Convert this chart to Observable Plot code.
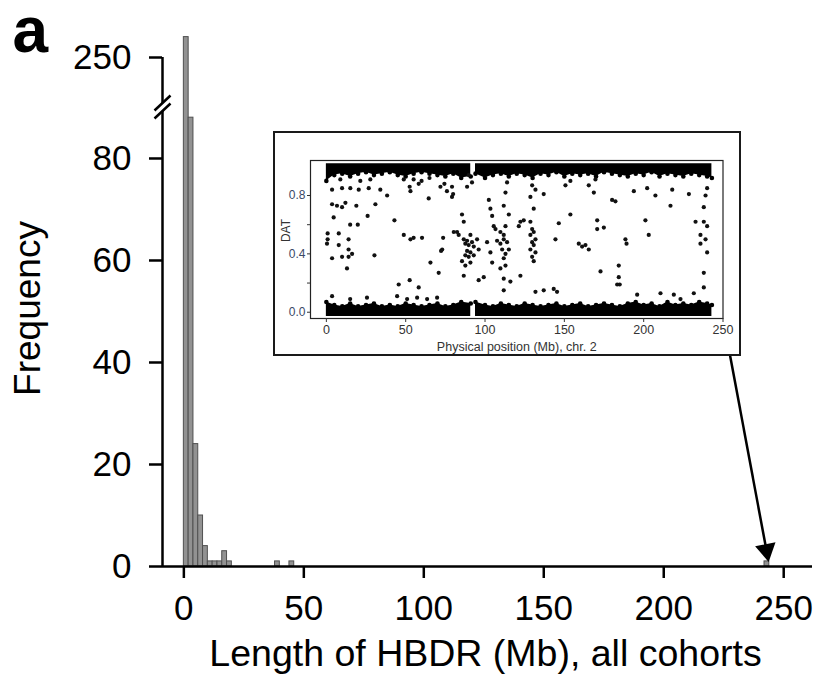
<!DOCTYPE html>
<html>
<head>
<meta charset="utf-8">
<script src="https://cdn.jsdelivr.net/npm/d3@7"></script>
<script src="https://cdn.jsdelivr.net/npm/@observablehq/plot@0.6"></script>
<style>
  html, body { margin: 0; padding: 0; background: #fff; }
  #wrap { position: relative; width: 817px; height: 677px; overflow: hidden; background: #fff; }
  #main { position: absolute; left: 0; top: 0; }
  #inset { position: absolute; left: 273px; top: 131px; width: 468px; height: 225px;
           box-sizing: border-box; border: 2px solid #1a1a1a; background: #fff; }
  svg { display: block; }
</style>
</head>
<body>
<div id="wrap"><div id="main"></div><div id="inset"></div></div>
<script>
// ---------- Main histogram data ----------
const binStart = [0, 2, 4, 6, 8, 10, 12, 14, 16, 18, 38, 44, 242];
const binCount = [254, 88, 24, 10, 4, 1, 1, 1, 3, 1, 1, 1, 1];
const binWidth = 2;
const xTicks = [0, 50, 100, 150, 200, 250];
const yTicks = [0, 20, 40, 60, 80, 250];
const breakLow = 90;       // axis is broken between these two values
const breakHigh = 240.2;
const arrowFrom = {x: 227.4, y: 42};       // arrow from inset box to the 243 Mb bar
const arrowTo = {x: 242.8, y: 3.2};

// ---------- Inset (chr. 2) data ----------
const insetXTicks = [0, 50, 100, 150, 200, 250];
const insetYTicks = [0, 0.2, 0.4, 0.6, 0.8];
const insetYLabels = [0, 0.4, 0.8];
const bandX = [0,5,10,15,20,25,30,35,40,45,50,55,60,65,70,75,80,85,91,92.5,94,100,105,110,115,120,125,130,135,140,145,150,155,160,165,170,175,180,185,190,195,200,205,210,215,220,225,230,235,240,243];
const topEdge = [0.90,0.94,0.95,0.93,0.95,0.96,0.94,0.95,0.96,0.94,0.93,0.95,0.96,0.95,0.94,0.93,0.95,0.92,0.93,null,0.95,0.92,0.94,0.95,0.93,0.95,0.94,0.92,0.95,0.94,0.96,0.93,0.95,0.94,0.95,0.93,0.96,0.95,0.94,0.93,0.95,0.94,0.96,0.93,0.95,0.94,0.93,0.95,0.94,0.93,0.92];
const bottomEdge = [0.07,0.05,0.04,0.06,0.04,0.05,0.06,0.04,0.05,0.04,0.06,0.05,0.04,0.05,0.06,0.04,0.05,0.07,0.06,null,0.07,0.05,0.04,0.06,0.05,0.04,0.06,0.05,0.04,0.05,0.06,0.04,0.05,0.06,0.04,0.05,0.06,0.05,0.04,0.06,0.07,0.05,0.06,0.04,0.07,0.05,0.06,0.05,0.07,0.06,0.05];
const bandTop = 1.018;
const bandBottom = -0.03;
const insetPtX = [
3.6,9.9,15.1,20.4,26.7,34,38.3,
3.6,6.7,9.9,12,18.9,30.9,
4.6,26,15,19.8,42.9,
0.8,0.8,0.4,7.8,14,7.8,14,
3.6,9.9,14,16.2,13,30.3,
48.8,53,55,60.3,
45.6,52.5,58.2,65.6,70.8,72.3,73,73.6,64.5,
53,52.5,48.8,55,58.2,
71.9,74.4,76,79.2,79.9,79.2,
85.5,86.6,80.3,82.4,83.4,
86.6,87.6,88.7,89.7,90.8,91.8,92.9,88.7,90.8,87.6,89.7,92.9,85.5,95,96,90.8,87.6,86.6,
96,99.2,
89.7,91.8,88.7,
102.4,103.4,104.5,105.5,106.6,109.7,111.8,107.6,109.7,111.8,113.9,101.3,110.8,112.9,103.4,104.5,109.7,111.8,116,111.8,
113.9,112.9,111.8,115,112.9,115,111.8,112.9,
129.7,131.8,128.6,130.7,128.6,
129.7,130.7,128.6,131.8,129.7,130.7,128.6,131.8,129.7,130.7,
137,122.3,124.4,121.3,122.3,
131.8,137,143.3,145.4,
146.5,144.4,153.8,
159.1,161.2,163.3,165.4,
150.7,153.8,165.4,169.6,
170.7,170.7,174.9,
168.6,180.1,182.2,
172.8,184.3,184.3,183.3,184.9,
188.5,189.2,
193.8,202.2,207.4,218,216.9,228.5,
201.1,203.2,
195.9,210.6,219,223.2,231.6,237.9,
240,239,237.9,232.7,237.9,240,235.8,239,235.8,240,237.9,
3.6,15,25.6,44.6,50.9,57.2,63.5,69.8,
8.8,21.4,27.7,60,65];
const insetPtY = [
0.84,0.85,0.85,0.84,0.85,0.84,0.80,
0.74,0.73,0.72,0.75,0.73,0.74,
0.65,0.66,0.60,0.60,0.63,
0.54,0.50,0.47,0.54,0.50,0.46,0.43,
0.37,0.38,0.38,0.40,0.30,0.39,
0.53,0.50,0.51,0.51,
0.19,0.22,0.17,0.34,0.27,0.42,0.43,0.51,0.78,
0.83,0.86,0.91,0.91,0.88,
0.86,0.88,0.83,0.86,0.81,0.79,
0.67,0.62,0.55,0.55,0.53,
0.50,0.47,0.49,0.46,0.53,0.48,0.45,0.42,0.41,0.39,0.38,0.39,0.35,0.50,0.43,0.34,0.32,0.25,
0.22,0.24,
0.94,0.89,0.86,
0.77,0.71,0.66,0.59,0.57,0.55,0.53,0.49,0.47,0.50,0.48,0.48,0.43,0.40,0.41,0.34,0.30,0.23,0.21,0.15,
0.89,0.82,0.73,0.67,0.59,0.43,0.37,0.32,
0.87,0.84,0.79,0.71,0.62,
0.57,0.55,0.53,0.50,0.48,0.46,0.43,0.41,0.38,0.35,
0.81,0.62,0.63,0.59,0.25,
0.14,0.15,0.16,0.14,
0.61,0.50,0.67,
0.47,0.45,0.46,0.43,
0.87,0.90,0.87,0.91,
0.63,0.57,0.58,
0.82,0.77,0.76,
0.28,0.32,0.24,0.19,0.19,
0.50,0.47,
0.83,0.85,0.80,0.84,0.73,0.81,
0.63,0.53,
0.12,0.13,0.12,0.09,0.13,0.17,
0.85,0.80,0.72,0.62,0.62,0.59,0.53,0.50,0.47,0.41,0.27,
0.11,0.09,0.10,0.11,0.09,0.10,0.09,0.10,
0.91,0.90,0.91,0.90,0.92];

const FONT = "'Liberation Sans', Arial, Helvetica, sans-serif";

// broken-axis mapping: values above the break are shifted down to sit just above it
const brk = v => (v > breakLow ? v - (breakHigh - breakLow) : v);
const unbrk = v => (v > breakLow + 0.5 ? v + (breakHigh - breakLow) : v);

// ---------- Main chart ----------
const bars = binStart.map((s, i) => ({x1: s, x2: s + binWidth, count: binCount[i], yb: brk(binCount[i])}));

// "//" axis-break symbols (white gap + two slashes)
const breakGap = {draw(ctx) { ctx.moveTo(-8, 3.5); ctx.lineTo(8, -11.5); ctx.lineTo(8, -3.5); ctx.lineTo(-8, 11.5); ctx.closePath(); }};
const breakLines = {draw(ctx) { ctx.moveTo(-8, 3.5); ctx.lineTo(8, -11.5); ctx.moveTo(-8, 11.5); ctx.lineTo(8, -3.5); }};

const main = Plot.plot({
  width: 817, height: 677,
  marginLeft: 162, marginRight: 5, marginTop: 26, marginBottom: 111,
  style: {fontFamily: FONT, background: "transparent", color: "#000", overflow: "visible"},
  x: {domain: [-8.9, 262], range: [162, 812]},
  y: {domain: [0, 105.8], range: [566, 26.4]},
  marks: [
    Plot.rectY(bars, {x1: "x1", x2: "x2", y: "yb", fill: "#929292", stroke: "#505050", strokeWidth: 1}),
    Plot.ruleY([0], {stroke: "#000", strokeWidth: 2.5}),
    Plot.ruleX([-8.9], {y1: 0, y2: brk(250), stroke: "#000", strokeWidth: 2.5}),
    Plot.axisX({ticks: xTicks, tickSize: 12, tickPadding: 17, fontSize: 35, strokeWidth: 2.5, label: null}),
    Plot.axisY({ticks: yTicks.map(brk), tickFormat: d => String(Math.round(unbrk(d))), tickSize: 13, tickPadding: 18, fontSize: 35, strokeWidth: 2.5, label: null}),
    Plot.dot([{x: -8.9, y: breakLow + 0.1}], {x: "x", y: "y", symbol: breakGap, r: 5, fill: "#fff", stroke: "none"}),
    Plot.dot([{x: -8.9, y: breakLow + 0.1}], {x: "x", y: "y", symbol: breakLines, r: 5, fill: "none", stroke: "#000", strokeWidth: 2.5}),
    Plot.link([{x1: arrowFrom.x, y1: arrowFrom.y, x2: arrowTo.x, y2: arrowTo.y}], {x1: "x1", y1: "y1", x2: "x2", y2: "y2", stroke: "#000", strokeWidth: 2.5}),
    Plot.dot([arrowTo], {x: "x", y: "y", symbol: "triangle", r: 7.7, rotate: 169.2, fill: "#000", stroke: "none"}),
    Plot.text(["a"], {frameAnchor: "top-left", dx: -150, dy: 25, text: d => d, fontSize: 64, fontWeight: "bold", textAnchor: "start", lineAnchor: "bottom", fill: "#000"}),
    Plot.text(["Frequency"], {frameAnchor: "left", dx: -123, dy: 12, text: d => d, rotate: -90, fontSize: 37, textAnchor: "middle", lineAnchor: "bottom", fill: "#000"}),
    Plot.text(["Length of HBDR (Mb), all cohorts"], {frameAnchor: "bottom", dx: -2, dy: 99, text: d => d, fontSize: 37.5, textAnchor: "middle", lineAnchor: "bottom", fill: "#000"})
  ]
});
document.getElementById("main").appendChild(main);

// ---------- Inset ----------
const bandRows = bandX.map((x, i) => ({x, top: topEdge[i], bottom: bottomEdge[i]}));
const pts = insetPtX.map((x, i) => ({x, y: insetPtY[i]}));

const inset = Plot.plot({
  width: 464, height: 221,
  marginLeft: 35, marginRight: 16.5, marginTop: 27, marginBottom: 36,
  style: {fontFamily: FONT, background: "#fff", color: "#222", overflow: "visible"},
  x: {domain: [-10, 250]},
  y: {domain: [-0.043, 1.04]},
  marks: [
    Plot.areaY(bandRows, {x: "x", y1: bandBottom, y2: "bottom", fill: "#000"}),
    Plot.areaY(bandRows, {x: "x", y1: "top", y2: bandTop, fill: "#000"}),
    Plot.dot(bandRows, {x: "x", y: "bottom", r: 2.3, fill: "#000", stroke: "none"}),
    Plot.dot(bandRows, {x: "x", y: "top", r: 2.3, fill: "#000", stroke: "none"}),
    Plot.dot(pts, {x: "x", y: "y", r: 2.1, fill: "#111", stroke: "none"}),
    Plot.frame({stroke: "#222", strokeWidth: 1.2}),
    Plot.axisX({ticks: insetXTicks, tickSize: 4, tickPadding: 3, fontSize: 12.5, label: null, fill: "#333", stroke: "#333"}),
    Plot.axisY({ticks: insetYTicks, tickFormat: d => insetYLabels.includes(d) ? d.toFixed(1) : "", tickSize: 3, tickPadding: 2, fontSize: 12, label: null, fill: "#3a4866", stroke: "#333"}),
    Plot.text(["DAT"], {frameAnchor: "left", dx: -21, dy: -9, text: d => d, rotate: -90, fontSize: 12, textAnchor: "middle", lineAnchor: "bottom", fill: "#333"}),
    Plot.text(["Physical position (Mb), chr. 2"], {frameAnchor: "bottom", dx: 0, dy: 32, text: d => d, fontSize: 12.5, textAnchor: "middle", lineAnchor: "bottom", fill: "#333"})
  ]
});
document.getElementById("inset").appendChild(inset);
</script>
</body>
</html>
